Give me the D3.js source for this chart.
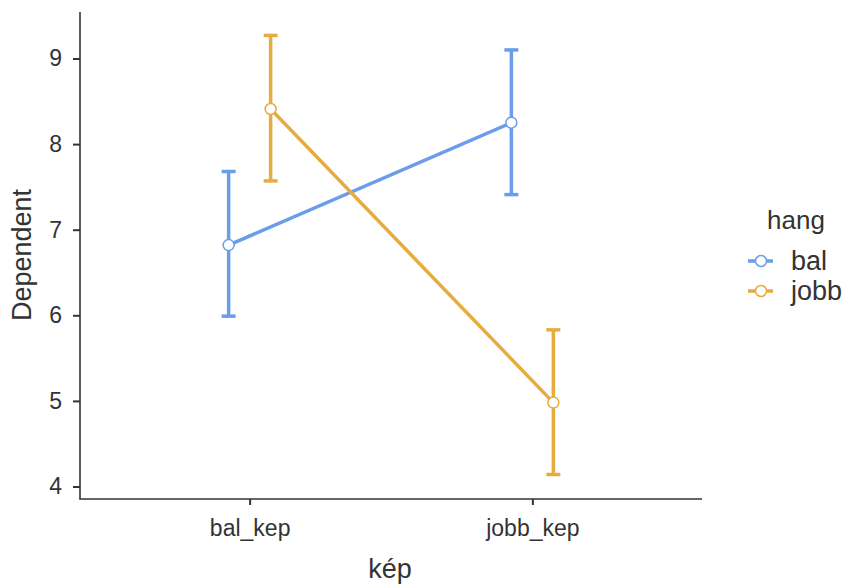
<!DOCTYPE html>
<html><head><meta charset="utf-8">
<script src="https://cdn.jsdelivr.net/npm/d3@7"></script>
<style>body{margin:0;background:#fff;} svg{display:block;font-family:"Liberation Sans",Arial,sans-serif;}</style>
</head><body>
<svg id="chart" width="846" height="584"></svg>
<script>
const categories = ["bal_kep", "jobb_kep"];
const seriesNames = ["bal", "jobb"];
const balMean = [6.82, 8.25];
const balLower = [5.99, 7.41];
const balUpper = [7.68, 9.10];
const jobbMean = [8.41, 4.98];
const jobbLower = [7.57, 4.14];
const jobbUpper = [9.27, 5.83];
const yTicks = [4, 5, 6, 7, 8, 9];
const colors = ["#6B9DE8", "#E6AC40"];

(function () {
const svg = d3.select("#chart");
const mLeft = 80, mRight = 702, mTop = 12, mBottom = 499;
const x = d3.scalePoint().domain(categories).range([mLeft, mRight]).padding(0.6);
const y = d3.scaleLinear().domain([4, 9]).range([486.5, 58.5]);
const dodge = 21;
const ink = "#333";

const series = [
  {name: seriesNames[0], mean: balMean, lo: balLower, hi: balUpper, color: colors[0], off: -dodge},
  {name: seriesNames[1], mean: jobbMean, lo: jobbLower, hi: jobbUpper, color: colors[1], off: dodge}
];

// axes
const yAxis = svg.append("g").attr("transform", `translate(${mLeft},0)`)
  .call(d3.axisLeft(y).tickValues(yTicks).tickSize(7).tickPadding(11).tickFormat(d3.format("d")));
yAxis.select(".domain").remove();
const xAxis = svg.append("g").attr("transform", `translate(0,${mBottom})`)
  .call(d3.axisBottom(x).tickSize(6).tickPadding(15));
xAxis.select(".domain").remove();
svg.append("line").attr("x1", mLeft).attr("x2", mLeft).attr("y1", mTop).attr("y2", mBottom)
  .attr("stroke", ink).attr("stroke-width", 1.6);
svg.append("line").attr("x1", mLeft - 0.8).attr("x2", mRight).attr("y1", mBottom).attr("y2", mBottom)
  .attr("stroke", ink).attr("stroke-width", 1.6);
svg.selectAll(".tick line").attr("stroke", ink).attr("stroke-width", 2);
svg.selectAll(".tick text").attr("font-size", 23).attr("fill", ink)
  .attr("font-family", "'Liberation Sans', Arial, sans-serif");

svg.append("text").attr("x", 390).attr("y", 578).attr("text-anchor", "middle")
  .attr("font-size", 27).attr("fill", ink).text("kép");
svg.append("text").attr("transform", "translate(31,255) rotate(-90)").attr("text-anchor", "middle")
  .attr("font-size", 27).attr("fill", ink).text("Dependent");

// series
series.forEach(s => {
  const g = svg.append("g");
  const pts = categories.map((c, i) => ({x: x(c) + s.off, m: s.mean[i], lo: s.lo[i], hi: s.hi[i]}));
  g.append("path").datum(pts)
    .attr("d", d3.line().x(d => d.x).y(d => y(d.m)))
    .attr("fill", "none").attr("stroke", s.color).attr("stroke-width", 3.5);
  pts.forEach(p => {
    g.append("line").attr("x1", p.x).attr("x2", p.x).attr("y1", y(p.lo)).attr("y2", y(p.hi))
      .attr("stroke", s.color).attr("stroke-width", 3.5);
    [p.lo, p.hi].forEach(v => g.append("line").attr("x1", p.x - 7).attr("x2", p.x + 7)
      .attr("y1", y(v)).attr("y2", y(v)).attr("stroke", s.color).attr("stroke-width", 3.5));
    g.append("circle").attr("cx", p.x).attr("cy", y(p.m)).attr("r", 5.5)
      .attr("fill", "#fff").attr("stroke", s.color).attr("stroke-width", 1.5);
  });
});

// legend
const lg = svg.append("g");
lg.append("text").attr("x", 767).attr("y", 229).attr("font-size", 26).attr("fill", ink).text("hang");
series.forEach((s, i) => {
  const cy = 261 + i * 30;
  lg.append("line").attr("x1", 748).attr("x2", 773).attr("y1", cy).attr("y2", cy)
    .attr("stroke", s.color).attr("stroke-width", 3.5);
  lg.append("circle").attr("cx", 761).attr("cy", cy).attr("r", 5.5)
    .attr("fill", "#fff").attr("stroke", s.color).attr("stroke-width", 1.5);
  lg.append("text").attr("x", 791).attr("y", cy + 9).attr("font-size", 27).attr("fill", ink).text(s.name);
});
})();
</script>
</body></html>
